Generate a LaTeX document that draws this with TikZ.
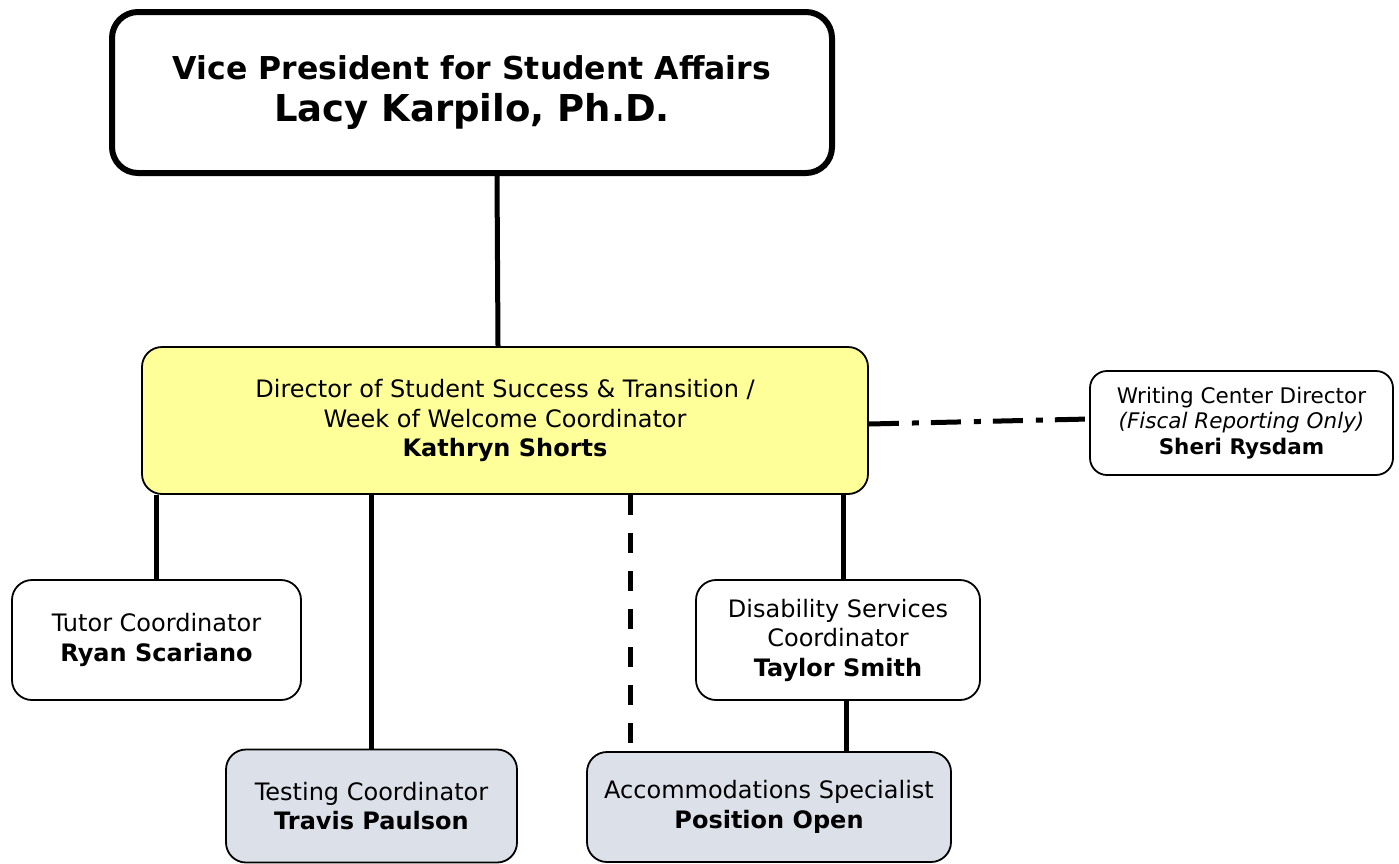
\documentclass[tikz,border=0pt]{standalone}
\usepackage{fontspec}
\setmainfont{DejaVu Sans}
\definecolor{diryellow}{HTML}{FFFF99}
\definecolor{opengray}{HTML}{DCE1E9}

\begin{document}
\begin{tikzpicture}[x = 1pt, y = -1pt,
    box/.style = {draw, line width = 1.8pt, rounded corners = 20pt,
        align = center, fill = white, inner sep = 0pt,
        font = \fontsize{24}{29.5}\selectfont},
    link/.style = {line width = 5pt}]
    \useasboundingbox (0,0) rectangle (1399,863);

    \node[box, line width = 6pt, rounded corners = 26pt,
        minimum width = 720pt, minimum height = 161pt] (vp) at (472,92.5)
        {\bfseries\fontsize{31.5}{36}\selectfont Vice President for Student Affairs\\[13pt]
         \bfseries\fontsize{37}{41}\selectfont Lacy Karpilo, Ph.D.};

    \node[box, fill = diryellow, minimum width = 726pt, minimum height = 147pt]
        (dir) at (505,420.5)
        {Director of Student Success \& Transition /\\
         Week of Welcome Coordinator\\
         \textbf{Kathryn Shorts}};

    \node[box, font = \fontsize{21.5}{25.5}\selectfont, rounded corners = 17pt,
        minimum width = 303pt, minimum height = 104pt] (wcd) at (1241.5,423)
        {Writing Center Director\\
         \textit{(Fiscal Reporting Only)}\\
         \textbf{Sheri Rysdam}};

    \node[box, minimum width = 289pt, minimum height = 120pt] (tutor) at (156.5,640)
        {Tutor Coordinator\\ \textbf{Ryan Scariano}};

    \node[box, minimum width = 284pt, minimum height = 120pt] (dis) at (838,640)
        {Disability Services\\ Coordinator\\ \textbf{Taylor Smith}};

    \node[box, fill = opengray, minimum width = 291pt, minimum height = 113pt]
        (test) at (371.5,806)
        {Testing Coordinator\\ \textbf{Travis Paulson}};

    \node[box, fill = opengray, minimum width = 364pt, minimum height = 110pt]
        (acc) at (769,807)
        {Accommodations Specialist\\ \textbf{Position Open}};

    % reporting lines
    \draw[link] ([xshift = 25pt]vp.south) -- ([xshift = -7pt]dir.north);
    \draw[link] (tutor.north |- dir.south) -- (tutor.north);
    \draw[link] (test.north |- dir.south) -- (test.north);
    \draw[link] ([xshift = 5pt]dis.north |- dir.south) -- ([xshift = 5pt]dis.north);
    \draw[link] ([xshift = 8pt]dis.south) -- ([xshift = 8pt]dis.south |- acc.north);

    \coordinate (accTop) at ([xshift = -139pt]acc.north);
    \draw[link, dash pattern = on 20pt off 18pt] (accTop |- dir.south) -- (accTop);

    \draw[link, dash pattern = on 30pt off 13pt on 7pt off 12pt]
        ([yshift = -3.5pt]dir.east) -- ([yshift = 4pt]wcd.west);
\end{tikzpicture}
\end{document}
